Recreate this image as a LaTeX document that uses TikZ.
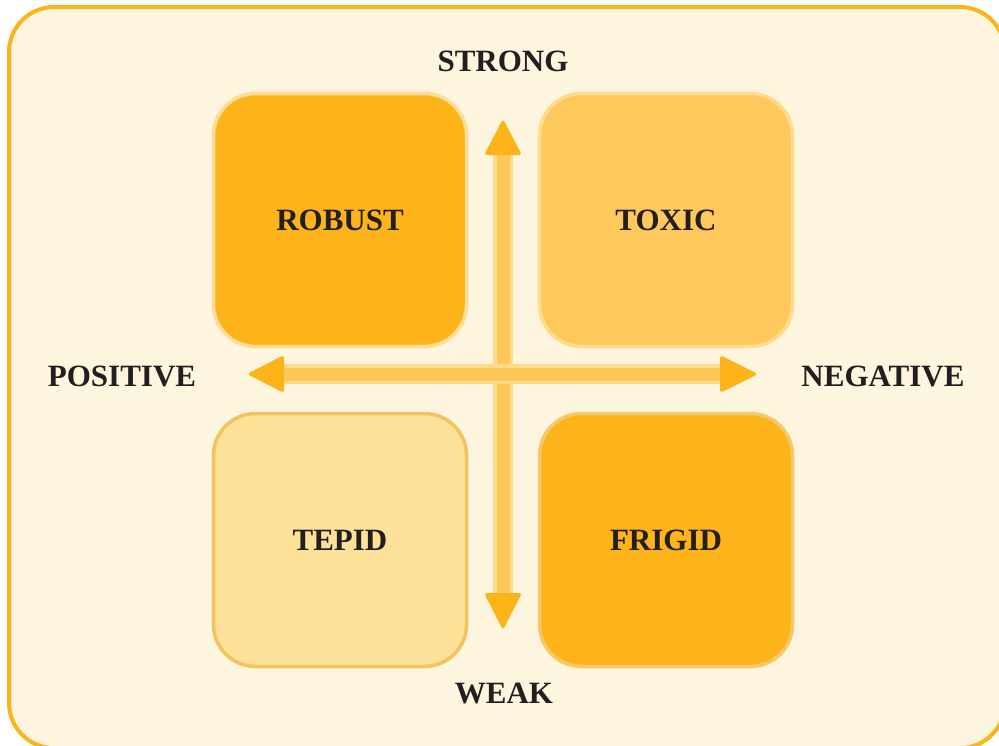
\documentclass[tikz,border=0pt]{standalone}
\usepackage{fontspec}
\setmainfont{Liberation Serif}
\definecolor{bgfill}{HTML}{FEF5DF}
\definecolor{frameor}{HTML}{FDB31A}
\definecolor{deep}{HTML}{FDB31A}
\definecolor{mid}{HTML}{FEC95C}
\definecolor{pale}{HTML}{FEE199}
\definecolor{brdlight}{HTML}{FBDD97}
\definecolor{brdmid}{HTML}{FEDC8C}
\definecolor{brddark}{HTML}{F2C35F}
\definecolor{shaftlight}{HTML}{FEDA8A}
\definecolor{shaftmid}{HTML}{FEC75A}
\definecolor{ink}{HTML}{231F20}
\tikzset{
  quad/.style={draw, line width=3.5pt, rounded corners=42pt, minimum width=253pt, minimum height=253pt, inner sep=0pt, font=\fontsize{31}{36}\selectfont\bfseries, text=ink},
  axislabel/.style={font=\fontsize{31}{36}\selectfont\bfseries, text=ink, inner sep=0pt},
  shaftout/.style={line width=20pt, draw=shaftlight},
  shaftin/.style={line width=13pt, draw=shaftmid},
  headtip/.style={fill=deep, rounded corners=3pt},
}
\begin{document}
\begin{tikzpicture}[x=1pt,y=-1pt]
\useasboundingbox (0,0) rectangle (999,745);
\begin{scope}
\clip (0,0) rectangle (999,745);
\draw[fill=bgfill, draw=frameor, line width=4pt, rounded corners=45pt] (9,7) rectangle (1005,748);
\end{scope}
% quadrants
\node[quad, fill=deep, draw=brdlight] (robust) at (340,220) {ROBUST};
\node[quad, fill=mid, draw=brdmid] (toxic) at (666,220) {TOXIC};
\node[quad, fill=pale, draw=brddark] (tepid) at (340,540) {TEPID};
\node[quad, fill=deep, draw=brddark!80!pale] (frigid) at (666,540) {FRIGID};
% axis labels
\node[axislabel] (strong) at (503,61) {STRONG};
\node[axislabel] (weak) at (504,693) {WEAK};
\node[axislabel] (positive) at (122,376) {POSITIVE};
\node[axislabel] (negative) at (883,376) {NEGATIVE};
% arrow coordinates
\coordinate (vtip) at (503,119);
\coordinate (vtopbase) at (503,155);
\coordinate (vbotbase) at (503,593);
\coordinate (vbot) at (503,630);
\coordinate (hleft) at (247,374);
\coordinate (hleftbase) at (284,374);
\coordinate (hrightbase) at (720,374);
\coordinate (hright) at (758,374);
% vertical shaft
\draw[shaftout] (vtopbase) -- (vbotbase);
\draw[shaftin] (vtopbase) -- (vbotbase);
% horizontal shaft
\draw[shaftout] (hleftbase) -- (hrightbase);
\draw[shaftin] (hleftbase) -- (hrightbase);
% arrow heads
\fill[headtip] (vtip) -- ([xshift=19pt]vtopbase) -- ([xshift=-19pt]vtopbase) -- cycle;
\fill[headtip] (vbot) -- ([xshift=19pt]vbotbase) -- ([xshift=-19pt]vbotbase) -- cycle;
\fill[headtip] (hleft) -- ([yshift=19pt]hleftbase) -- ([yshift=-19pt]hleftbase) -- cycle;
\fill[headtip] (hright) -- ([yshift=19pt]hrightbase) -- ([yshift=-19pt]hrightbase) -- cycle;
\end{tikzpicture}
\end{document}
